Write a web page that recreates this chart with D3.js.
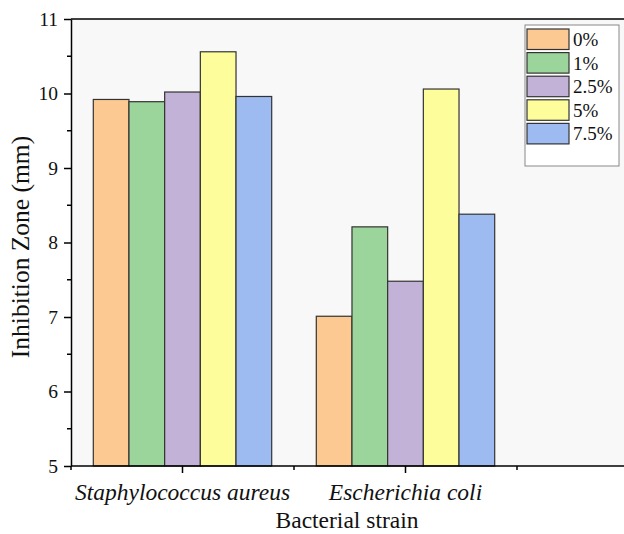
<!DOCTYPE html>
<html>
<head>
<meta charset="utf-8">
<script src="https://cdn.jsdelivr.net/npm/d3@7"></script>
<style>
  body { margin: 0; background: #fff; }
</style>
</head>
<body>
<div id="chart"></div>
<script>
// DATA //
const strains = ["Staphylococcus aureus", "Escherichia coli"];
const concentrations = ["0%", "1%", "2.5%", "5%", "7.5%"];
const staphValues = [9.92, 9.89, 10.02, 10.56, 9.96];
const coliValues = [7.01, 8.21, 7.48, 10.06, 8.38];
const colors = ["#fdc993", "#9cd59b", "#c3b2d7", "#fdfd9c", "#9dbbf1"];
const yTicks = [5, 6, 7, 8, 9, 10, 11];

const values = [staphValues, coliValues];
const serif = "Liberation Serif";

// DIMENSIONS //
const width = 624;
const height = 534;
const margin = { top: 19, left: 71, bottom: 68 };

const svg = d3
  .select("#chart")
  .append("svg")
  .attr("width", width)
  .attr("height", height)
  .style("display", "block");

// x axis in "slot" units: categories sit at 1 and 3
const x = d3.scaleLinear().domain([0, 5]).range([margin.left, 628.5]);
const y = d3
  .scaleLinear()
  .domain([5, 11])
  .range([height - margin.bottom, margin.top]);

const groupWidth = 1.6;
const barWidth = groupWidth / concentrations.length;

// Plot area background
svg
  .append("rect")
  .attr("x", x(0))
  .attr("y", y(11))
  .attr("width", width - x(0))
  .attr("height", y(5) - y(11))
  .attr("fill", "#f8f8f8");

// Bars
strains.forEach((strain, i) => {
  const center = 1 + i * 2;
  svg
    .append("g")
    .selectAll("rect")
    .data(values[i])
    .join("rect")
    .attr("x", (d, j) => x(center - groupWidth / 2 + j * barWidth))
    .attr("width", x(barWidth) - x(0))
    .attr("y", (d) => y(d))
    .attr("height", (d) => y(5) - y(d))
    .attr("fill", (d, j) => colors[j])
    .attr("stroke", "#333")
    .attr("stroke-width", 1.2);
});

// Y axis with major and minor ticks
const yAxis = svg.append("g").attr("transform", `translate(${x(0)},0)`);
yAxis
  .call(
    d3
      .axisLeft(y)
      .tickValues(yTicks)
      .tickFormat(d3.format("d"))
      .tickSize(7)
      .tickSizeOuter(0)
      .tickPadding(6)
  )
  .call((g) => g.select(".domain").attr("stroke-width", 1.5))
  .call((g) => g.selectAll(".tick line").attr("stroke-width", 1.5))
  .call((g) =>
    g
      .selectAll(".tick text")
      .style("font-family", serif)
      .style("font-size", "19.5px")
      .attr("fill", "#111")
  );
yAxis
  .selectAll(".minor")
  .data(d3.range(5.5, 11, 1))
  .join("line")
  .attr("class", "minor")
  .attr("x1", 0)
  .attr("x2", -4)
  .attr("y1", (d) => y(d))
  .attr("y2", (d) => y(d))
  .attr("stroke", "#000")
  .attr("stroke-width", 1.5);

// X axis
const xAxis = svg.append("g").attr("transform", `translate(0,${y(5)})`);
xAxis
  .append("line")
  .attr("x1", x(0))
  .attr("x2", width)
  .attr("stroke", "#000")
  .attr("stroke-width", 1.5);
xAxis
  .selectAll(".xtick")
  .data([0, 1, 2, 3, 4])
  .join("line")
  .attr("class", "xtick")
  .attr("x1", (d) => x(d))
  .attr("x2", (d) => x(d))
  .attr("y1", 0)
  .attr("y2", (d) => (d % 2 === 1 ? 7 : 4))
  .attr("stroke", "#000")
  .attr("stroke-width", 1.5);
xAxis
  .selectAll(".xlabel")
  .data(strains)
  .join("text")
  .attr("class", "xlabel")
  .attr("x", (d, i) => x(1 + i * 2))
  .attr("y", 34)
  .attr("text-anchor", "middle")
  .style("font-family", serif)
  .style("font-size", "23.5px")
  .style("font-style", "italic")
  .attr("fill", "#111")
  .text((d) => d);

// Top frame line
svg
  .append("line")
  .attr("x1", x(0))
  .attr("x2", width)
  .attr("y1", y(11))
  .attr("y2", y(11))
  .attr("stroke", "#000")
  .attr("stroke-width", 1.5);

// Axis titles
svg
  .append("text")
  .attr("x", 347)
  .attr("y", 528)
  .attr("text-anchor", "middle")
  .style("font-family", serif)
  .style("font-size", "23.5px")
  .attr("fill", "#111")
  .text("Bacterial strain");

svg
  .append("text")
  .attr("transform", `translate(29,247) rotate(-90)`)
  .attr("text-anchor", "middle")
  .style("font-family", serif)
  .style("font-size", "25.5px")
  .attr("fill", "#111")
  .text("Inhibition Zone (mm)");

// Legend
const legend = svg.append("g").attr("transform", "translate(525,25)");
legend
  .append("rect")
  .attr("width", 94)
  .attr("height", 141)
  .attr("fill", "#fff")
  .attr("stroke", "#888")
  .attr("stroke-width", 1);
const items = legend
  .selectAll(".item")
  .data(concentrations)
  .join("g")
  .attr("class", "item")
  .attr("transform", (d, i) => `translate(2,${4 + i * 23.6})`);
items
  .append("rect")
  .attr("width", 42)
  .attr("height", 20.5)
  .attr("fill", (d, i) => colors[i])
  .attr("stroke", "#333")
  .attr("stroke-width", 1.2);
items
  .append("text")
  .attr("x", 46)
  .attr("y", 17)
  .style("font-family", serif)
  .style("font-size", "19px")
  .attr("fill", "#111")
  .text((d) => d);
</script>
</body>
</html>
